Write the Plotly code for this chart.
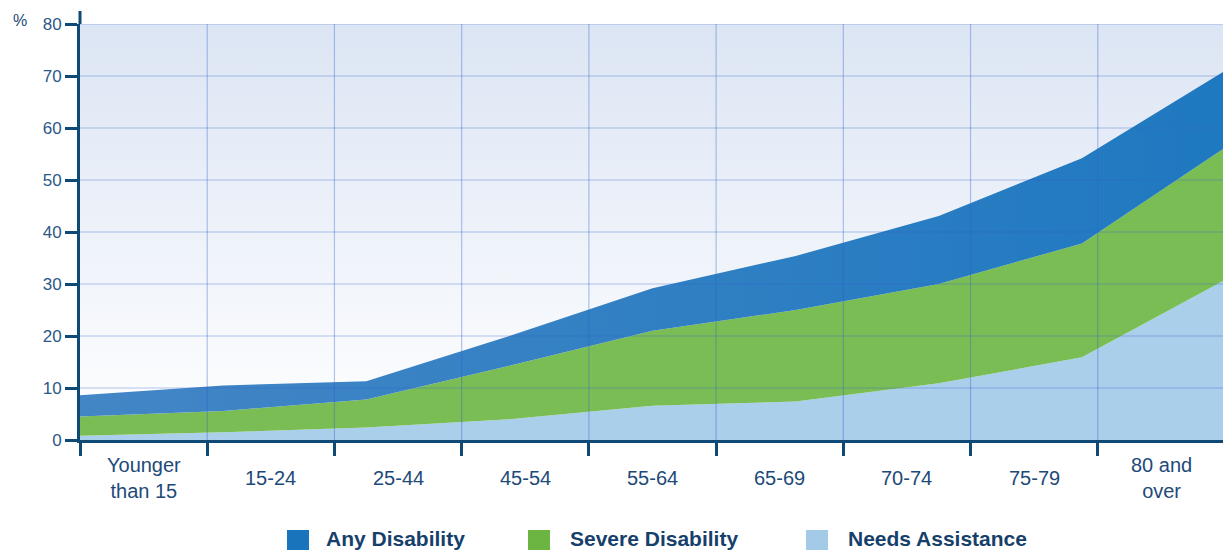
import plotly.graph_objects as go

# ---------------- data ----------------
categories = ["Younger<br>than 15", "15-24", "25-44", "45-54", "55-64",
              "65-69", "70-74", "75-79", "80 and<br>over"]
any_disability = [8.6, 10.5, 11.3, 20.0, 29.2, 35.4, 43.1, 54.2, 71.0]
severe_disability = [4.5, 5.6, 7.8, 14.3, 21.0, 25.0, 30.0, 37.8, 56.2]
needs_assistance = [0.8, 1.5, 2.4, 4.0, 6.6, 7.4, 10.9, 15.9, 30.8]
y_ticks = [0, 10, 20, 30, 40, 50, 60, 70, 80]
series_names = ["Any Disability", "Severe Disability", "Needs Assistance"]

# ---------------- style ----------------
PAGE_W, PAGE_H = 1231, 550
BODY = 8                      # default page margin around the figure
W, H = PAGE_W - BODY, PAGE_H - BODY
PL, PR, PT, PB = 80, 1225, 24, 440   # plot area in page pixels
ML, MR, MT, MB = PL - BODY, PAGE_W - PR, PT - BODY, PAGE_H - PB
NAVY = "#0e4a75"
TEXT = "#1d4a78"
GRID = "rgba(50,95,200,0.36)"
C_ANY_L, C_ANY_R = "#4386c6", "#1f79c0"
C_SEV = "#7bbd55"
C_NEED = "#a9cfeb"
LEG_COLORS = ["#1a74bb", "#6cb543", "#a3cbe8"]

n = len(categories)
x_pts = list(range(n))
x_max = n - 1
y_max = y_ticks[-1]
bounds = [i * x_max / n for i in range(n + 1)]
centers = [(bounds[i] + bounds[i + 1]) / 2 for i in range(n)]

PW = PR - PL
PH = PB - PT


def px_x(p):
    return (p - PL) / PW


def px_y(p):
    return (PB - p) / PH


fig = go.Figure()

# gradient plot background
fig.add_trace(go.Scatter(
    x=[0, x_max, x_max, 0, 0], y=[0, 0, y_max, y_max, 0],
    mode="none", fill="toself",
    fillgradient=dict(type="vertical",
                      colorscale=[[0, "#ffffff"], [1, "#dce5f4"]]),
    hoverinfo="skip", showlegend=False))

fig.add_trace(go.Scatter(
    x=x_pts, y=needs_assistance, mode="none", fill="tozeroy",
    fillcolor=C_NEED, name=series_names[2], showlegend=False))
fig.add_trace(go.Scatter(
    x=x_pts, y=severe_disability, mode="none", fill="tonexty",
    fillcolor=C_SEV, name=series_names[1], showlegend=False))
fig.add_trace(go.Scatter(
    x=x_pts, y=any_disability, mode="none", fill="tonexty",
    fillgradient=dict(type="horizontal",
                      colorscale=[[0, C_ANY_L], [1, C_ANY_R]]),
    name=series_names[0], showlegend=False))

shapes = []
# grid lines drawn above the areas
for v in y_ticks[1:]:
    shapes.append(dict(type="line", xref="x", yref="y", x0=0, x1=x_max,
                       y0=v, y1=v, line=dict(color=GRID, width=1.2),
                       layer="above"))
for b in bounds[1:]:
    shapes.append(dict(type="line", xref="x", yref="y", x0=b, x1=b,
                       y0=0, y1=y_max, line=dict(color=GRID, width=1.2),
                       layer="above"))
# y-axis line extension above the top
shapes.append(dict(type="line", xref="paper", yref="paper", x0=0, x1=0,
                   y0=1, y1=px_y(11), line=dict(color=NAVY, width=3),
                   layer="above"))

annotations = []
for c, lab in zip(centers, categories):
    annotations.append(dict(x=c, xref="x", y=px_y(478), yref="paper",
                            text=lab, showarrow=False, xanchor="center",
                            yanchor="middle",
                            font=dict(size=20, color=TEXT,
                                      family="Liberation Sans, Arial")))
annotations.append(dict(x=px_x(20), xref="paper", y=px_y(21), yref="paper",
                        text="%", showarrow=False, xanchor="center",
                        yanchor="middle",
                        font=dict(size=16, color=TEXT,
                                  family="Liberation Sans, Arial")))

# manual legend with large square keys
leg_sq_x = [287, 528, 806]
leg_txt_x = [324, 568, 846]
SQ = 22
for name, col, sx, tx in zip(series_names, LEG_COLORS, leg_sq_x, leg_txt_x):
    shapes.append(dict(type="rect", xref="paper", yref="paper",
                       x0=px_x(sx), x1=px_x(sx + SQ),
                       y0=px_y(530), y1=px_y(530 + SQ),
                       fillcolor=col, line=dict(width=0), layer="above"))
    annotations.append(dict(x=px_x(tx), xref="paper", y=px_y(538),
                            yref="paper", text="<b>" + name + "</b>",
                            showarrow=False, xanchor="left",
                            yanchor="middle",
                            font=dict(size=21, color="#173f6b",
                                      family="Liberation Sans, Arial")))

fig.update_layout(
    width=W, height=H,
    margin=dict(l=ML, r=MR, t=MT, b=MB),
    paper_bgcolor="white", plot_bgcolor="white",
    showlegend=False,
    shapes=shapes, annotations=annotations,
    xaxis=dict(range=[0, x_max], tickvals=bounds,
               ticktext=[""] * len(bounds), showgrid=False, zeroline=False,
               showline=True, linecolor=NAVY, linewidth=3,
               ticks="outside", ticklen=13, tickwidth=3, tickcolor=NAVY,
               layer="above traces", fixedrange=True),
    yaxis=dict(range=[0, y_max], tickvals=y_ticks, showgrid=False,
               zeroline=False, showline=True, linecolor=NAVY, linewidth=3,
               ticks="outside", ticklen=12, tickwidth=3, tickcolor=NAVY,
               tickfont=dict(size=17, color="#2b5887",
                             family="Liberation Sans, Arial"),
               layer="above traces", fixedrange=True),
)

fig.write_html("out.html")
